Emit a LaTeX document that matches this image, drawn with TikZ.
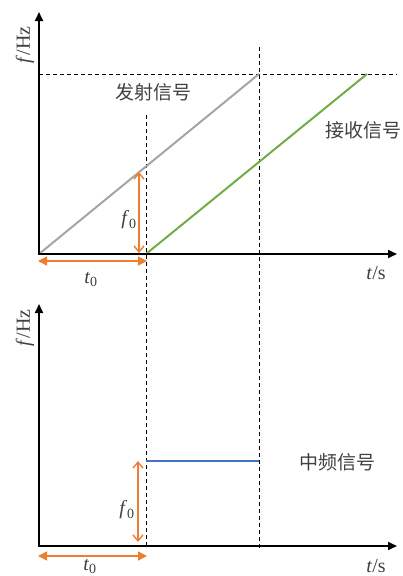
\documentclass[tikz,border=0pt]{standalone}
\usepackage{fontspec}
\setmainfont{Liberation Serif}
\newfontfamily\cjk{Noto Sans CJK SC}
\usetikzlibrary{arrows.meta}
\definecolor{myorange}{HTML}{ED7D31}
\definecolor{mygreen}{HTML}{70AD47}
\definecolor{myblue}{HTML}{4472C4}
\definecolor{mygray}{HTML}{A5A5A5}
\definecolor{txtgray}{HTML}{404040}
\tikzset{
  axis/.style={line width=1.8pt,-{Triangle[length=9pt,width=8pt]}},
  guide/.style={line width=1pt,dash pattern=on 4pt off 3pt},
  fzero/.style={myorange,line width=1.4pt,{Straight Barb[length=6pt,width=10pt]}-{Straight Barb[length=6pt,width=10pt]}},
  tzero/.style={myorange,line width=1.4pt,{Triangle[length=9pt,width=9pt]}-{Triangle[length=9pt,width=9pt]}},
  cn/.style={font=\cjk\fontsize{19}{19}\selectfont,text=txtgray,inner sep=0pt},
  lbl/.style={font=\fontsize{20}{20}\selectfont,text=txtgray,inner sep=0pt},
}
\begin{document}
\begin{tikzpicture}[x=1pt,y=-1pt]
\useasboundingbox (0,0) rectangle (403,576);
% ---- top plot ----
\coordinate (O1) at (39,254);
\coordinate (Y1) at (39,12);
\coordinate (X1) at (397,254);
\coordinate (H1a) at (39,74);
\coordinate (H1b) at (397,74);
\coordinate (V1t) at (146,115);
\coordinate (V1b) at (146,548);
\coordinate (V2t) at (259,47);
\coordinate (V2b) at (259,548);
\coordinate (G1) at (259,74);
\coordinate (R0) at (146,254);
\coordinate (R1) at (367,74);
\coordinate (F1t) at (139,172);
\coordinate (F1b) at (139,253);
\coordinate (T1l) at (38,261);
\coordinate (T1r) at (147,261);
\draw[guide] (H1a) -- (H1b);
\draw[guide] (V1t) -- (V1b);
\draw[guide] (V2t) -- (V2b);
\draw[mygray,line width=2pt] (O1) -- (G1);
\draw[mygreen,line width=2pt] (R0) -- (R1);
\draw[axis] (O1) -- (Y1);
\draw[axis] ([xshift=-1pt]O1) -- (X1);
\draw[fzero] (F1t) -- (F1b);
\draw[tzero] (T1l) -- (T1r);
\node[lbl,rotate=90] (fhz1) at (25,45) {\textit{f}/Hz};
\node[lbl] (ts1) at (376,273) {\textit{t}/s};
\node[lbl] (f01) at (129,220) {\textit{f}$_{\mathrm{0}}$};
\node[lbl] (t01) at (91,279) {\textit{t}$_{\mathrm{0}}$};
\node[cn] (tx) at (153,92) {发射信号};
\node[cn] (rx) at (363,130) {接收信号};
% ---- bottom plot ----
\coordinate (O2) at (39,546);
\coordinate (Y2) at (39,304);
\coordinate (X2) at (397,546);
\coordinate (B0) at (146,461);
\coordinate (B1) at (259,461);
\coordinate (F2t) at (138,461);
\coordinate (F2b) at (138,542);
\coordinate (T2l) at (38,556);
\coordinate (T2r) at (147,556);
\draw[myblue,line width=2pt] (B0) -- (B1);
\draw[axis] (O2) -- (Y2);
\draw[axis] ([xshift=-1pt]O2) -- (X2);
\draw[fzero] (F2t) -- (F2b);
\draw[tzero] (T2l) -- (T2r);
\node[lbl,rotate=90] (fhz2) at (25,328) {\textit{f}/Hz};
\node[lbl] (ts2) at (376,566) {\textit{t}/s};
\node[lbl] (f02) at (127,510) {\textit{f}$_{\mathrm{0}}$};
\node[lbl] (t02) at (90,566) {\textit{t}$_{\mathrm{0}}$};
\node[cn] (ifs) at (337,462) {中频信号};
\end{tikzpicture}
\end{document}
